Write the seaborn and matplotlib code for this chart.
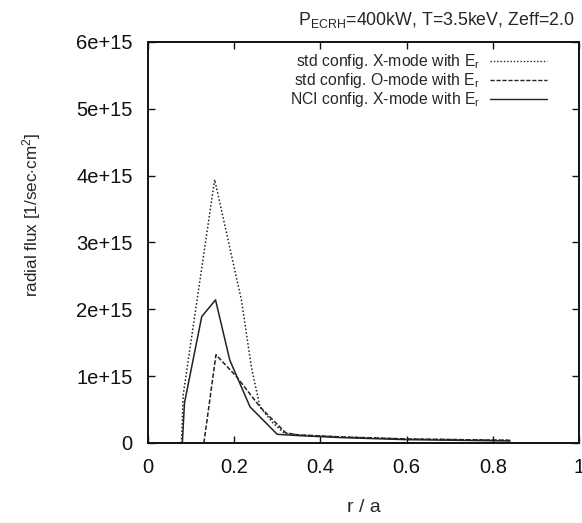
import numpy as np
import pandas as pd
import matplotlib
matplotlib.use("Agg")
import matplotlib.pyplot as plt
import seaborn as sns

# radial flux profiles (r/a, flux in 1e15 1/sec/cm^2)
r_std_x = [0.078, 0.082, 0.155, 0.217, 0.240, 0.260, 0.290, 0.316, 0.350, 0.450, 0.600, 0.840]
f_std_x = [0.0, 0.72, 3.94, 2.14, 1.14, 0.54, 0.30, 0.15, 0.12, 0.09, 0.06, 0.04]

r_std_o = [0.130, 0.158, 0.206, 0.260, 0.283, 0.320, 0.350, 0.450, 0.600, 0.840]
f_std_o = [0.0, 1.32, 0.99, 0.54, 0.39, 0.15, 0.12, 0.09, 0.06, 0.04]

r_nci_x = [0.080, 0.085, 0.125, 0.157, 0.190, 0.237, 0.300, 0.350, 0.450, 0.600, 0.840]
f_nci_x = [0.0, 0.60, 1.89, 2.14, 1.24, 0.54, 0.13, 0.11, 0.08, 0.05, 0.03]

labels = ["std config. X-mode with E$_r$",
          "std config. O-mode with E$_r$",
          "NCI config. X-mode with E$_r$"]

sns.set_theme(style="ticks")
plt.rcParams["font.family"] = ["Liberation Sans", "DejaVu Sans"]
plt.rcParams["mathtext.fontset"] = "custom"
plt.rcParams["mathtext.rm"] = "Liberation Sans"
plt.rcParams["mathtext.it"] = "Liberation Sans"

fig = plt.figure(figsize=(5.82, 5.23), dpi=100)
ax = fig.add_axes([0.254, 0.153, 0.741, 0.767])

series = [(r_std_x, f_std_x, (1, 1.4)), (r_std_o, f_std_o, (3, 1.3)), (r_nci_x, f_nci_x, None)]
for (r, f, dash), lab in zip(series, labels):
    df = pd.DataFrame({"r": r, "flux": np.array(f) * 1e15})
    ax2 = sns.lineplot(data=df, x="r", y="flux", ax=ax, color="#222222", lw=1.1,
                       label=lab, sort=False, estimator=None)
    if dash is not None:
        ax2.lines[-1].set_dashes(dash)

ax.set_xlim(0, 1)
ax.set_ylim(0, 6e15)
ax.set_xticks([0, 0.2, 0.4, 0.6, 0.8, 1])
ax.set_xticklabels(["0", "0.2", "0.4", "0.6", "0.8", "1"])
ax.set_yticks(np.arange(0, 7) * 1e15)
ax.set_yticklabels(["0"] + [f"{i}e+15" for i in range(1, 7)])
ax.tick_params(direction="in", top=True, right=True, labelsize=14.5, length=5,
               width=1, colors="#111111")
ax.tick_params(axis="y", pad=11)
ax.tick_params(axis="x", pad=11)
for sp in ax.spines.values():
    sp.set_linewidth(1.4)
    sp.set_color("#111111")

ax.set_xlabel("r / a", fontsize=14)
ax.xaxis.set_label_coords(0.5, -0.14)
ax.set_ylabel("radial flux [1/sec$\\cdot$cm$^2$]", fontsize=12.3)
ax.yaxis.set_label_coords(-0.244, 0.569)

leg = ax.legend(loc="upper right", bbox_to_anchor=(0.940, 0.99), borderaxespad=0,
                frameon=False, fontsize=11.3, markerfirst=False,
                handlelength=3.6, handletextpad=0.64, labelspacing=0.0)
for t in leg.get_texts():
    t.set_ha("right")
for h in leg.get_lines():
    h.set_linewidth(1.0)

fig.text(0.988, 0.962, "P$_{\\mathrm{ECRH}}$=400kW, T=3.5keV, Zeff=2.0",
         ha="right", va="center", fontsize=12.8)

fig.savefig("out.png", dpi=100)
